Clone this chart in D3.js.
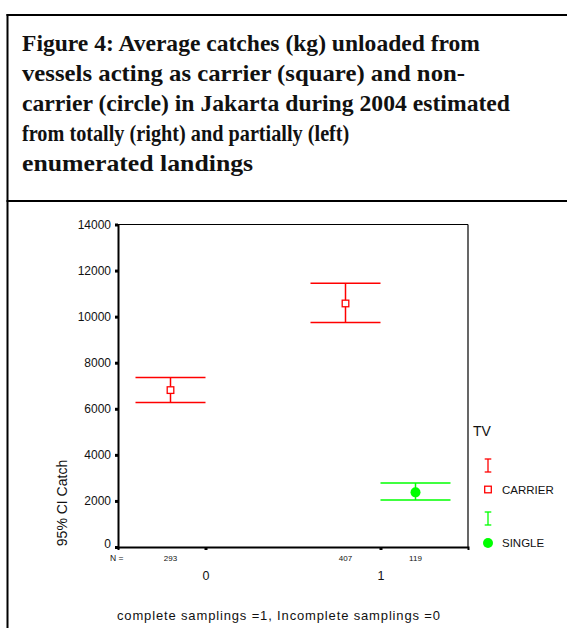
<!DOCTYPE html>
<html>
<head>
<meta charset="utf-8">
<script src="https://cdn.jsdelivr.net/npm/d3@7"></script>
<style>
  html, body { margin: 0; padding: 0; background: #fff; }
  svg { display: block; }
</style>
</head>
<body>
<svg id="chart" width="567" height="628"></svg>
<script>
// ---------- data ----------
const titleLines = [
  "Figure 4: Average catches (kg) unloaded from",
  "vessels acting as carrier (square) and non-",
  "carrier (circle) in Jakarta during 2004 estimated",
  "from totally (right) and partially (left)",
  "enumerated landings"
];
const categories = ["0", "1"];
const series = ["CARRIER", "SINGLE"];
const seriesColors = ["#ff0000", "#00ff00"];
const carrierMean = [6811, 10572];
const carrierLow  = [6277, 9748];
const carrierHigh = [7362, 11453];
const singleMean  = [null, 2372];
const singleLow   = [null, 2039];
const singleHigh  = [null, 2777];
const carrierN = [293, 407];
const singleN  = [null, 119];
const yTicks = [0, 2000, 4000, 6000, 8000, 10000, 12000, 14000];
const yTitle = "95% CI Catch";
const xTitle = "complete samplings =1, Incomplete samplings =0";
const legendTitle = "TV";

// ---------- layout ----------
const svg = d3.select("#chart");
const plot = { left: 118, right: 468, top: 224.5, bottom: 547 };

// outer frame
svg.append("line").attr("x1", 7.5).attr("x2", 7.5).attr("y1", 14).attr("y2", 628)
  .attr("stroke", "#000").attr("stroke-width", 2);
svg.append("line").attr("x1", 6.5).attr("x2", 567).attr("y1", 15).attr("y2", 15)
  .attr("stroke", "#000").attr("stroke-width", 2);
svg.append("line").attr("x1", 6.5).attr("x2", 567).attr("y1", 201).attr("y2", 201)
  .attr("stroke", "#000").attr("stroke-width", 2);

// title
const titleWidths = [458, 443, 488, 311, 243];
const tl = svg.append("g").selectAll("text").data(titleLines).join("text")
  .attr("x", 22)
  .attr("y", (d, i) => 50.5 + i * 30)
  .attr("font-family", "'Liberation Serif', 'DejaVu Serif', serif")
  .attr("font-weight", "bold")
  .attr("font-size", 23)
  .attr("fill", "#111")
  .text(d => d);
tl.each(function(d, i) {
  const w = this.getComputedTextLength();
  const r = Math.max(0.88, Math.min(1.12, titleWidths[i] / w));
  d3.select(this).attr("textLength", w * r).attr("lengthAdjust", "spacingAndGlyphs");
});

// scales
const x = d3.scalePoint().domain(categories).range([plot.left, plot.right]).padding(0.5);
const offset = d3.scalePoint().domain(series).range([-35, 35]);
const y = d3.scaleLinear().domain([0, 14000]).range([plot.bottom, plot.top]);

// plot frame (top/right thin)
svg.append("line").attr("x1", plot.left).attr("x2", plot.right).attr("y1", plot.top).attr("y2", plot.top)
  .attr("stroke", "#000").attr("stroke-width", 1);
svg.append("line").attr("x1", plot.right).attr("x2", plot.right).attr("y1", plot.top).attr("y2", plot.bottom)
  .attr("stroke", "#000").attr("stroke-width", 1.2);

const sans = "'Liberation Sans', Arial, sans-serif";

// y axis
const yAxis = svg.append("g").attr("transform", `translate(${plot.left},0)`)
  .call(d3.axisLeft(y).tickValues(yTicks).tickFormat(d3.format("d")).tickSize(3).tickPadding(4));
yAxis.select(".domain").attr("stroke-width", 2);
yAxis.selectAll(".tick line").attr("stroke-width", 3);
yAxis.selectAll(".tick text").attr("font-family", sans)
  .attr("font-size", 12).attr("fill", "#111");
yAxis.selectAll(".tick text").filter(d => d === 0).attr("dy", "0.05em");

// x axis
const xAxis = svg.append("g").attr("transform", `translate(0,${plot.bottom})`)
  .call(d3.axisBottom(x).tickSize(3).tickPadding(21));
xAxis.select(".domain").attr("stroke-width", 2);
xAxis.selectAll(".tick line").attr("stroke-width", 3);
xAxis.selectAll(".tick text").attr("font-family", sans)
  .attr("font-size", 12.5).attr("fill", "#111");

// N = labels
svg.append("text").attr("x", 110).attr("y", 561).attr("font-family", sans).attr("font-size", 8.5)
  .attr("fill", "#111").text("N =");

// series data
const seriesData = [
  { name: series[0], mean: carrierMean, low: carrierLow, high: carrierHigh, n: carrierN },
  { name: series[1], mean: singleMean,  low: singleLow,  high: singleHigh,  n: singleN }
];
const points = [];
seriesData.forEach((s, si) => {
  categories.forEach((c, ci) => {
    if (s.mean[ci] != null) {
      points.push({ series: s.name, si, cat: c, mean: s.mean[ci], low: s.low[ci], high: s.high[ci], n: s.n[ci] });
    }
  });
});

const px = d => x(d.cat) + offset(d.series);

svg.append("g").selectAll("text").data(points).join("text")
  .attr("x", px).attr("y", 561).attr("text-anchor", "middle")
  .attr("font-family", sans).attr("font-size", 8).attr("fill", "#111")
  .text(d => d.n);

const eb = svg.append("g").selectAll("g").data(points).join("g")
  .attr("stroke", d => seriesColors[d.si]).attr("stroke-width", 1.5).attr("fill", "none");
eb.append("line").attr("x1", px).attr("x2", px).attr("y1", d => y(d.low)).attr("y2", d => y(d.high));
eb.append("line").attr("x1", d => px(d) - 35).attr("x2", d => px(d) + 35)
  .attr("y1", d => y(d.high)).attr("y2", d => y(d.high));
eb.append("line").attr("x1", d => px(d) - 35).attr("x2", d => px(d) + 35)
  .attr("y1", d => y(d.low)).attr("y2", d => y(d.low));

// markers
const markers = svg.append("g");
markers.selectAll("rect").data(points.filter(d => d.si === 0)).join("rect")
  .attr("x", d => px(d) - 3.3).attr("y", d => y(d.mean) - 3.3)
  .attr("width", 6.6).attr("height", 6.6)
  .attr("fill", "#fff").attr("stroke", seriesColors[0]).attr("stroke-width", 1.3);
markers.selectAll("circle").data(points.filter(d => d.si === 1)).join("circle")
  .attr("cx", px).attr("cy", d => y(d.mean)).attr("r", 5)
  .attr("fill", seriesColors[1]);

// axis titles
svg.append("text").attr("transform", "translate(67,503) rotate(-90)")
  .attr("text-anchor", "middle").attr("font-family", sans).attr("font-size", 14)
  .attr("fill", "#111").text(yTitle);
svg.append("text").attr("x", 278.5).attr("y", 620).attr("text-anchor", "middle")
  .attr("font-family", sans).attr("font-size", 13).attr("fill", "#111")
  .attr("textLength", 323).attr("lengthAdjust", "spacing").text(xTitle);

// legend
const lg = svg.append("g");
lg.append("text").attr("x", 473).attr("y", 436).attr("font-family", sans).attr("font-size", 14)
  .attr("fill", "#111").text(legendTitle);
const legendRows = series.map((s, i) => ({ name: s, i, y0: 459 + i * 53 }));
const lr = lg.selectAll("g").data(legendRows).join("g");
lr.append("line").attr("x1", 488).attr("x2", 488).attr("y1", d => d.y0).attr("y2", d => d.y0 + 13)
  .attr("stroke", d => seriesColors[d.i]).attr("stroke-width", 1.3);
lr.append("line").attr("x1", 484.7).attr("x2", 491.3).attr("y1", d => d.y0).attr("y2", d => d.y0)
  .attr("stroke", d => seriesColors[d.i]).attr("stroke-width", 1.3);
lr.append("line").attr("x1", 484.7).attr("x2", 491.3).attr("y1", d => d.y0 + 13).attr("y2", d => d.y0 + 13)
  .attr("stroke", d => seriesColors[d.i]).attr("stroke-width", 1.3);
lr.filter(d => d.i === 0).append("rect").attr("x", 484.7).attr("y", d => d.y0 + 27.2)
  .attr("width", 6.6).attr("height", 6.6).attr("fill", "#fff")
  .attr("stroke", seriesColors[0]).attr("stroke-width", 1.3);
lr.filter(d => d.i === 1).append("circle").attr("cx", 488).attr("cy", d => d.y0 + 31)
  .attr("r", 5).attr("fill", seriesColors[1]);
lr.append("text").attr("x", 502).attr("y", d => d.y0 + 34.5)
  .attr("font-family", sans).attr("font-size", 11.5).attr("fill", "#111")
  .text(d => d.name);
</script>
</body>
</html>
